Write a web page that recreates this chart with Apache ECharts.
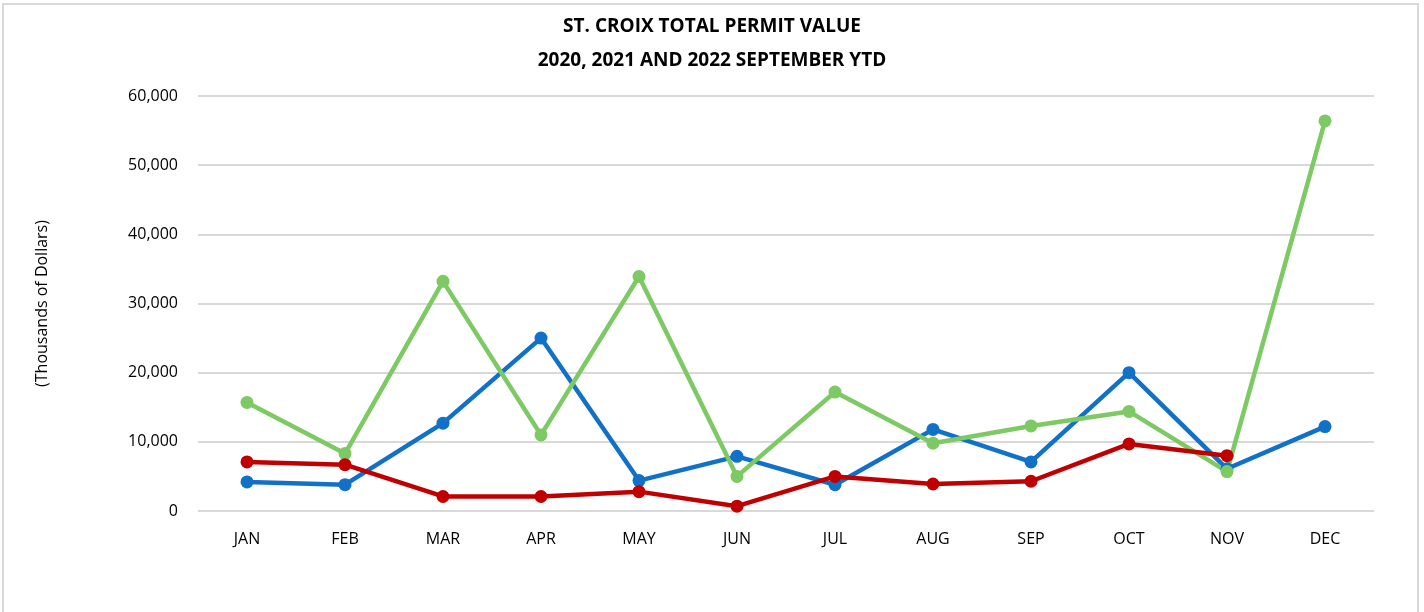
<!DOCTYPE html>
<html>
<head>
<meta charset="utf-8">
<script src="https://cdn.jsdelivr.net/npm/echarts@6/dist/echarts.min.js"></script>
<style>
  html, body { margin: 0; padding: 0; background: #fff; }
  #wrap {
    position: absolute; left: 2px; top: 3px; width: 1417px; height: 609px;
    border: 2px solid #d9d9d9; border-bottom: none; box-sizing: border-box;
  }
  #chart { position: absolute; left: 0; top: 0; width: 1424px; height: 612px; }
</style>
</head>
<body>
<div id="wrap"></div>
<div id="chart"></div>
<script>
// 月份
const months = ['JAN', 'FEB', 'MAR', 'APR', 'MAY', 'JUN', 'JUL', 'AUG', 'SEP', 'OCT', 'NOV', 'DEC']
// 各年份数值（千美元）
const values2020 = [4200, 3800, 12700, 25000, 4400, 7900, 3800, 11800, 7100, 20000, 6100, 12200]
const values2021 = [15700, 8300, 33200, 11000, 33900, 5000, 17200, 9800, 12300, 14400, 5700, 56400]
const values2022 = [7100, 6700, 2100, 2100, 2800, 700, 5000, 3900, 4300, 9700, 8000, null]
const yTicks = [0, 10000, 20000, 30000, 40000, 50000, 60000]

const fontFam = '"Open Sans", sans-serif'

const chartInstance = echarts.init(document.getElementById('chart'))

function lineSeries (name, data, color) {
  return {
    name: name,
    type: 'line',
    data: data,
    symbol: 'circle',
    symbolSize: 13,
    connectNulls: false,
    lineStyle: { width: 4.5, color: color },
    itemStyle: { color: color },
    emphasis: { disabled: true }
  }
}

const option = {
  animation: false,
  title: {
    text: 'ST. CROIX TOTAL PERMIT VALUE\n2020, 2021 AND 2022 SEPTEMBER YTD',
    left: 'center',
    top: 5,
    textStyle: {
      fontFamily: fontFam,
      fontWeight: 'bold',
      fontSize: 19,
      lineHeight: 34,
      color: '#000'
    }
  },
  grid: {
    left: 198,
    right: 50,
    top: 96,
    bottom: 101
  },
  xAxis: {
    type: 'category',
    data: months,
    boundaryGap: true,
    axisLine: { show: false },
    axisTick: { show: false },
    axisLabel: {
      margin: 20,
      fontFamily: fontFam,
      fontSize: 16,
      color: '#000'
    }
  },
  yAxis: {
    type: 'value',
    min: yTicks[0],
    max: yTicks[yTicks.length - 1],
    interval: 10000,
    name: '(Thousands of Dollars)',
    nameLocation: 'middle',
    nameGap: 148,
    nameRotate: 90,
    nameTextStyle: {
      fontFamily: fontFam,
      fontSize: 16,
      color: '#000'
    },
    axisLabel: {
      margin: 20,
      fontFamily: fontFam,
      fontSize: 16,
      color: '#000',
      formatter: v => v.toLocaleString('en-US')
    },
    splitLine: { lineStyle: { color: '#d9d9d9', width: 2 } }
  },
  series: [
    lineSeries('2020', values2020, '#1170c8'),
    lineSeries('2021', values2021, '#7dc964'),
    lineSeries('2022', values2022, '#c00000')
  ]
}
chartInstance.setOption(option)
</script>
</body>
</html>
